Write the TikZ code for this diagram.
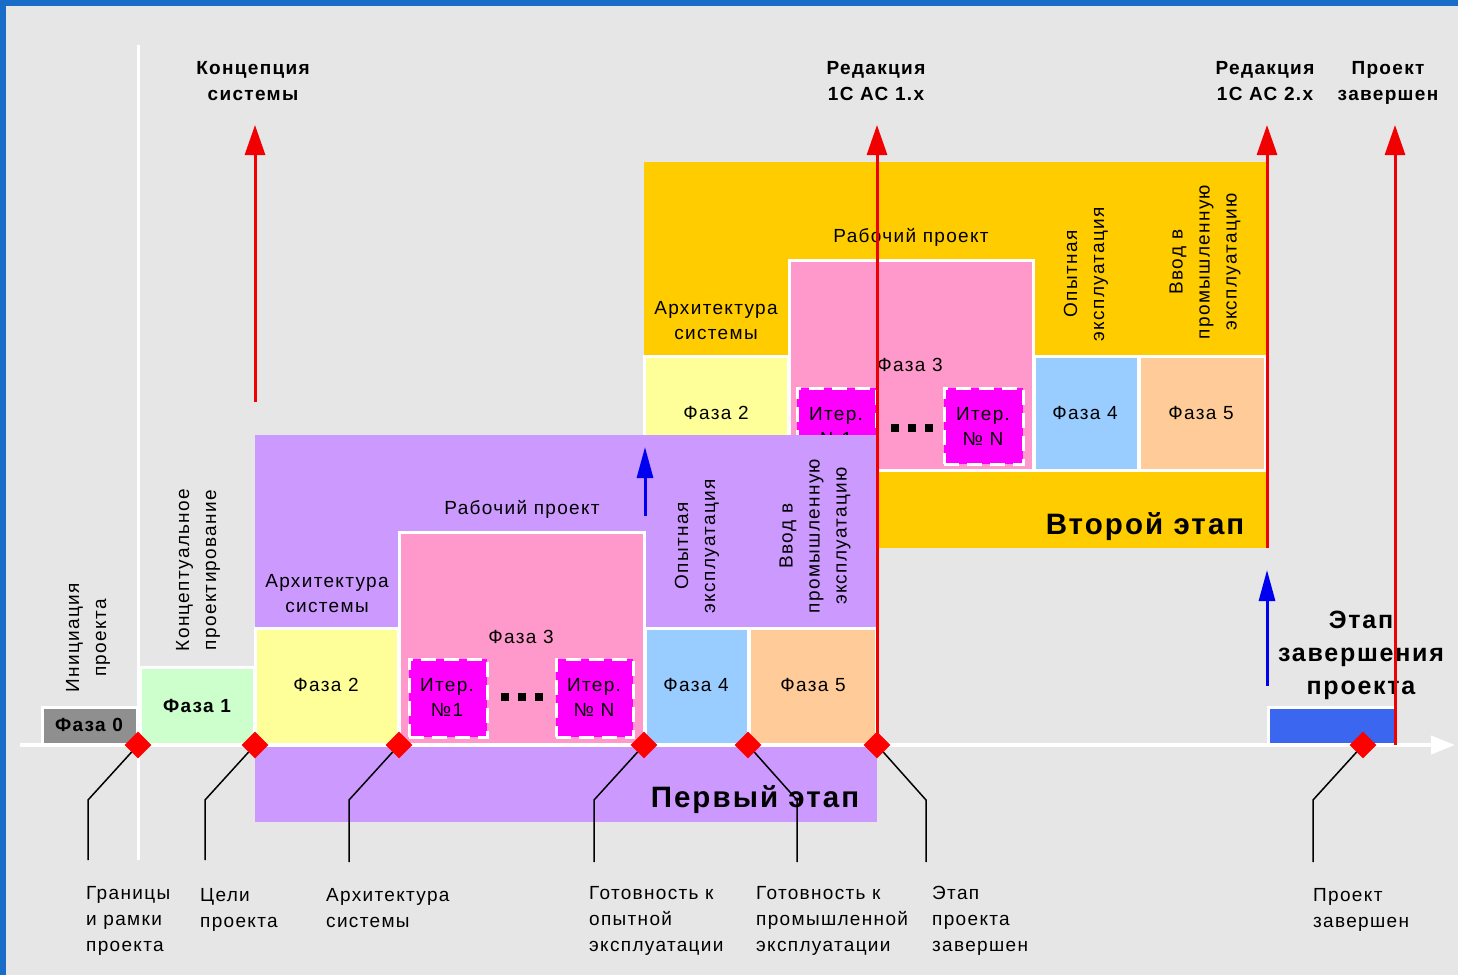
\documentclass[tikz,border=0pt]{standalone}
\usepackage{fontspec}
\setmainfont{Liberation Sans}[LetterSpace=7]
\usetikzlibrary{arrows.meta,fit}
\definecolor{frameblue}{HTML}{1A6DC6}
\definecolor{bggray}{HTML}{E6E6E6}
\definecolor{stpurple}{HTML}{CC99FF}
\definecolor{stgold}{HTML}{FFCC00}
\definecolor{phyellow}{HTML}{FFFF99}
\definecolor{phpink}{HTML}{FF99CC}
\definecolor{itmagenta}{HTML}{FF00FF}
\definecolor{phblue}{HTML}{99CCFF}
\definecolor{phpeach}{HTML}{FFCC99}
\definecolor{phgreen}{HTML}{CCFFCC}
\definecolor{phgray}{HTML}{8F8F8F}
\definecolor{endblue}{HTML}{3A66F0}
\definecolor{arrred}{HTML}{F00000}
\definecolor{arrblue}{HTML}{0000F0}
\tikzset{
  region/.style={inner sep=0pt, draw=none},
  phbox/.style={inner sep=0pt, draw=white, line width=3pt},
  itbox/.style={inner sep=0pt, draw=white, line width=3pt, fill=itmagenta, dash pattern=on 15pt off 8pt},
  txt/.style={inner sep=0pt, align=center, font=\fontsize{19}{25}\selectfont},
  btxt/.style={inner sep=0pt, align=center, font=\fontsize{19}{26}\selectfont\bfseries},
  toptxt/.style={inner sep=0pt, align=center, anchor=north, font=\fontsize{19}{26}\selectfont\bfseries},
  bigtxt/.style={inner sep=0pt, align=center, font=\fontsize{29.5}{32}\selectfont\bfseries},
  endtxt/.style={inner sep=0pt, align=center, font=\fontsize{25}{33}\selectfont\bfseries},
  rottxt/.style={inner sep=0pt, align=center, rotate=90, font=\fontsize{19}{27}\selectfont},
  bottxt/.style={inner sep=0pt, align=left, anchor=north west, font=\fontsize{19}{26}\selectfont},
  redarrow/.style={draw=arrred, line width=3pt, -{Triangle[length=30pt,width=20pt]}},
  bluearrow/.style={draw=arrblue, line width=3pt, -{Triangle[length=31pt,width=16pt]}},
  leader/.style={draw=black, line width=1.5pt},
  milestone/.style={fill=red, rotate=45, minimum size=19pt, inner sep=0pt},
  dotsq/.style={fill=black}
}
\begin{document}
\begin{tikzpicture}[x=1pt,y=-1pt]
\useasboundingbox (0,0) rectangle (1458,975);
\fill[frameblue] (0,0) rectangle (1458,975);
\fill[bggray] (6,6) rectangle (1458,975);

% white vertical line
\coordinate (v0) at (138,45);
\coordinate (v1) at (138,860);
\draw[white, line width=3pt] (v0) -- (v1);

% ---------- second stage ----------
\node[region, fill=stgold, fit={(644,162) (1266,548)}] (stage2) {};
\node[phbox, fill=phyellow, fit={(644,356) (788,470)}] (s2p2) {};
\node[phbox, fill=phpink, fit={(789,260) (1033,470)}] (s2p3) {};
\node[itbox, fit={(797,388) (876,464)}] (s2it1) {};
\node[itbox, fit={(944,388) (1023,464)}] (s2itn) {};
\node[phbox, fill=phblue, fit={(1034,356) (1138,470)}] (s2p4) {};
\node[phbox, fill=phpeach, fit={(1139,356) (1265,470)}] (s2p5) {};
\fill[dotsq] (891,424) rectangle (899,432);
\fill[dotsq] (908,424) rectangle (916,432);
\fill[dotsq] (925,424) rectangle (933,432);
\node[txt] (s2arch) at (716,321) {Архитектура\\системы};
\node[txt] (s2p2t) at (716,413) {Фаза 2};
\node[txt] (s2work) at (911,237) {Рабочий проект};
\node[txt] (s2p3t) at (910,365) {Фаза 3};
\node[txt] (s2it1t) at (836,426) {Итер.\\№1};
\node[txt] (s2itnt) at (983,426) {Итер.\\№ N};
\node[txt] (s2p4t) at (1085,413) {Фаза 4};
\node[txt] (s2p5t) at (1201,413) {Фаза 5};
\node[rottxt] (s2op) at (1086,274) {Опытная\\эксплуатация};
\node[rottxt] (s2vv) at (1205,262) {Ввод в\\промышленную\\эксплуатацию};
\node[bigtxt] (s2name) at (1145,527) {Второй этап};

% ---------- first stage ----------
\node[region, fill=stpurple, fit={(255,435) (877,822)}] (stage1) {};
\node[phbox, fill=phyellow, fit={(255,628) (398,744)}] (s1p2) {};
\node[phbox, fill=phpink, fit={(399,532) (644,744)}] (s1p3) {};
\node[itbox, fit={(409,659) (487,737)}] (s1it1) {};
\node[itbox, fit={(556,659) (633,737)}] (s1itn) {};
\node[phbox, fill=phblue, fit={(645,628) (748,744)}] (s1p4) {};
\node[phbox, fill=phpeach, fit={(749,628) (876,744)}] (s1p5) {};
\fill[dotsq] (501,693) rectangle (509,701);
\fill[dotsq] (518,693) rectangle (526,701);
\fill[dotsq] (535,693) rectangle (543,701);
\node[txt] (s1arch) at (327,594) {Архитектура\\системы};
\node[txt] (s1p2t) at (326,685) {Фаза 2};
\node[txt] (s1work) at (522,509) {Рабочий проект};
\node[txt] (s1p3t) at (521,637) {Фаза 3};
\node[txt] (s1it1t) at (447,697) {Итер.\\№1};
\node[txt] (s1itnt) at (594,697) {Итер.\\№ N};
\node[txt] (s1p4t) at (696,685) {Фаза 4};
\node[txt] (s1p5t) at (813,685) {Фаза 5};
\node[rottxt] (s1op) at (697,546) {Опытная\\эксплуатация};
\node[rottxt] (s1vv) at (815,536) {Ввод в\\промышленную\\эксплуатацию};
\node[bigtxt] (s1name) at (755,800) {Первый этап};

% ---------- phases 0, 1 and completion ----------
\node[phbox, fill=phgray, fit={(42,707) (137,744)}] (p0) {};
\node[btxt] (p0t) at (89,725) {Фаза 0};
\node[phbox, fill=phgreen, fit={(140,667) (254,744)}] (p1) {};
\node[btxt] (p1t) at (197,706) {Фаза 1};
\node[rottxt] (p0r) at (88,638) {Инициация\\проекта};
\node[rottxt] (p1r) at (198,570) {Концептуальное\\проектирование};
\node[phbox, fill=endblue, fit={(1268,707) (1395,744)}] (pend) {};
\node[endtxt] (pendt) at (1361,655) {Этап\\завершения\\проекта};

% ---------- time axis ----------
\coordinate (ax0) at (20,745);
\coordinate (ax1) at (1455,745);
\draw[white, line width=4pt, -{Triangle[length=24pt,width=18pt]}] (ax0) -- (ax1);

% ---------- arrows ----------
\coordinate (ra0) at (255,402); \coordinate (ra1) at (255,125);
\coordinate (rb0) at (877,745); \coordinate (rb1) at (877,125);
\coordinate (rc0) at (1267,548); \coordinate (rc1) at (1267,125);
\coordinate (rd0) at (1395,745); \coordinate (rd1) at (1395,125);
\draw[redarrow] (ra0) -- (ra1);
\draw[redarrow] (rb0) -- (rb1);
\draw[redarrow] (rc0) -- (rc1);
\draw[redarrow] (rd0) -- (rd1);
\coordinate (ba0) at (645,516); \coordinate (ba1) at (645,447);
\coordinate (bb0) at (1267,686); \coordinate (bb1) at (1267,570);
\draw[bluearrow] (ba0) -- (ba1);
\draw[bluearrow] (bb0) -- (bb1);

% ---------- top labels ----------
\node[toptxt] (lconc) at (253,61) {Концепция\\системы};
\node[toptxt] (lred1) at (876,61) {Редакция\\1С АС 1.x};
\node[toptxt] (lred2) at (1265,61) {Редакция\\1С АС 2.x};
\node[toptxt] (lfin) at (1388,61) {Проект\\завершен};

% ---------- milestones and leaders ----------
\foreach \i/\x/\bx/\ey in {1/138/88/860, 2/255/205/860, 3/399/349/862, 4/644/594/862, 5/748/797/862, 6/877/926/862, 7/1363/1313/862}{
  \coordinate (m\i) at (\x,745);
  \coordinate (k\i) at (\bx,800);
  \coordinate (e\i) at (\bx,\ey);
  \draw[leader] (m\i) -- (k\i) -- (e\i);
  \node[milestone] (d\i) at (m\i) {};
}

% ---------- bottom labels ----------
\node[bottxt] (b1) at (86,886) {Границы\\и рамки\\проекта};
\node[bottxt] (b2) at (200,888) {Цели\\проекта};
\node[bottxt] (b3) at (326,888) {Архитектура\\системы};
\node[bottxt] (b4) at (589,886) {Готовность к\\опытной\\эксплуатации};
\node[bottxt] (b5) at (756,886) {Готовность к\\промышленной\\эксплуатации};
\node[bottxt] (b6) at (932,886) {Этап\\проекта\\завершен};
\node[bottxt] (b7) at (1313,888) {Проект\\завершен};
\end{tikzpicture}
\end{document}
